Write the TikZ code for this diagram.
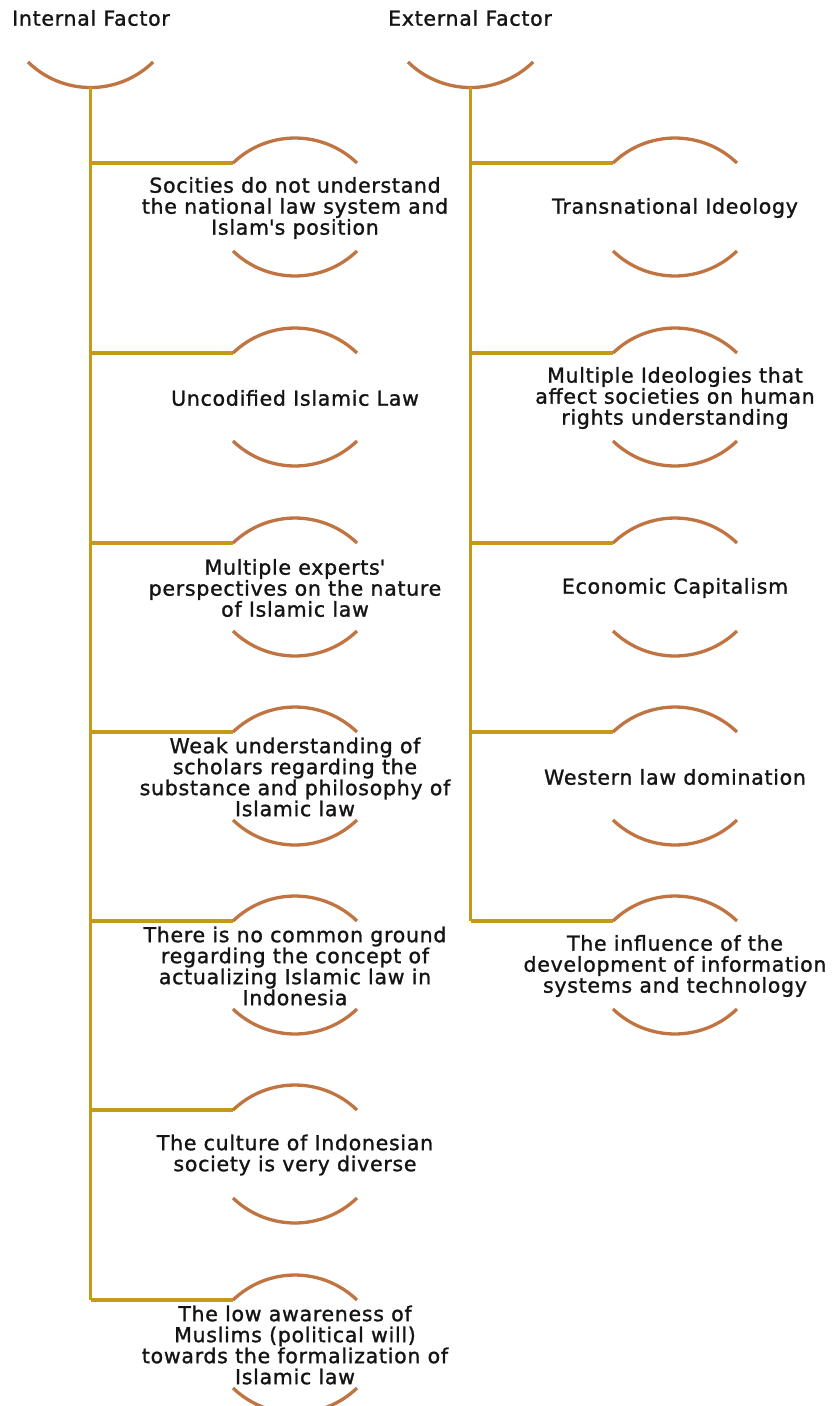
\documentclass[tikz,border=0pt]{standalone}
\usepackage{fontspec}
\setmainfont{DejaVu Sans}[LetterSpace=3.5,FakeBold=1.3]
\definecolor{goldline}{RGB}{198,154,24}
\definecolor{arccol}{RGB}{192,116,66}
\definecolor{txtcol}{RGB}{20,20,20}
\tikzset{
  branchline/.style={draw=goldline, line width=3.5pt},
  arcline/.style={draw=arccol, line width=3.3pt},
  factortext/.style={align=center, text=txtcol, inner sep=0pt, font=\fontsize{20.5}{21}\selectfont},
  headtext/.style={text=txtcol, inner sep=0pt, font=\fontsize{20.5}{21}\selectfont},
}
% #1 name, #2 trunk x, #3 arc centre x, #4 branch y (image px), #5 text
\newcommand\factoritem[5]{%
  \coordinate (#1-b) at (#2,-#4);
  \coordinate (#1-a) at (#3-62,-#4);
  \coordinate (#1-c) at (#3-62,-#4-88);
  \draw[branchline] (#1-b) -- (#1-a);
  \draw[arcline] (#1-a) arc[start angle=133.9, end angle=46.1, radius=89.4];
  \node[factortext] (#1) at (#3,-#4-45) {#5};
  \draw[arcline] (#1-c) arc[start angle=226.1, end angle=313.9, radius=89.4];
}
\begin{document}
\begin{tikzpicture}[x=1pt,y=1pt]
\useasboundingbox (0,0) rectangle (831,-1406);
% headers
\node[headtext] (inth) at (91,-18) {Internal Factor};
\node[headtext] (exth) at (470,-18) {External Factor};
\coordinate (inttop) at (28,-62);
\coordinate (exttop) at (408,-62);
\coordinate (intbot) at (90.5,-87);
\coordinate (extbot) at (470.5,-87);
\draw[arcline] (inttop) arc[start angle=225.6, end angle=314.4, radius=89.4];
\draw[arcline] (exttop) arc[start angle=225.6, end angle=314.4, radius=89.4];
% internal column
\factoritem{i1}{90.5}{295}{163}{Socities do not understand\\the national law system and\\Islam\textquotesingle s position}
\factoritem{i2}{90.5}{295}{353}{Uncodified Islamic Law}
\factoritem{i3}{90.5}{295}{543}{Multiple experts\textquotesingle\\perspectives on the nature\\of Islamic law}
\factoritem{i4}{90.5}{295}{732}{Weak understanding of\\scholars regarding the\\substance and philosophy of\\Islamic law}
\factoritem{i5}{90.5}{295}{921}{There is no common ground\\regarding the concept of\\actualizing Islamic law in\\Indonesia}
\factoritem{i6}{90.5}{295}{1110}{The culture of Indonesian\\society is very diverse}
\factoritem{i7}{90.5}{295}{1300}{The low awareness of\\Muslims (political will)\\towards the formalization of\\Islamic law}
\draw[branchline] (intbot) -- (i7-b);
% external column
\factoritem{e1}{470.5}{675}{163}{Transnational Ideology}
\factoritem{e2}{470.5}{675}{353}{Multiple Ideologies that\\affect societies on human\\rights understanding}
\factoritem{e3}{470.5}{675}{543}{Economic Capitalism}
\factoritem{e4}{470.5}{675}{732}{Western law domination}
\factoritem{e5}{470.5}{675}{921}{The influence of the\\development of information\\systems and technology}
\draw[branchline] (extbot) -- (e5-b);
\end{tikzpicture}
\end{document}
